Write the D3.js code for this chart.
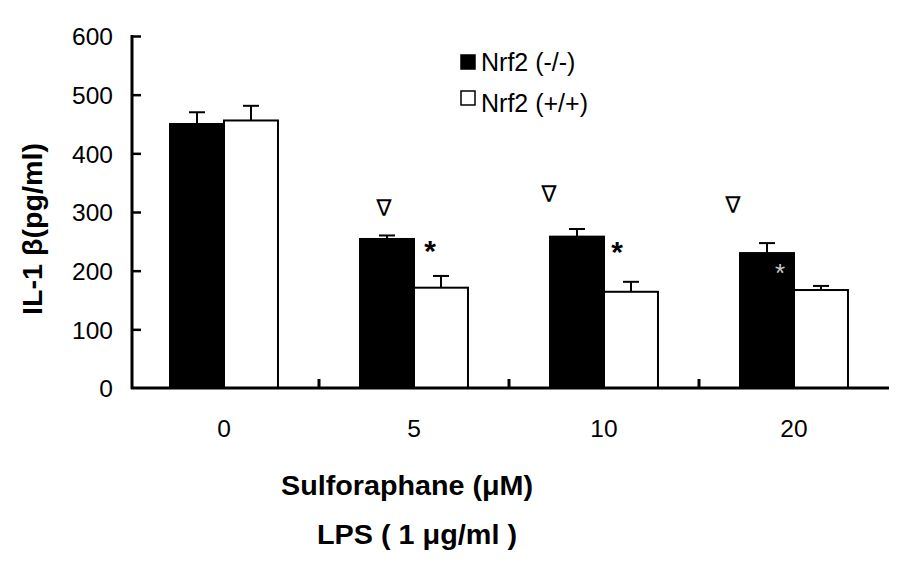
<!DOCTYPE html>
<html>
<head>
<meta charset="utf-8">
<script src="https://cdn.jsdelivr.net/npm/d3@7"></script>
<style>
  html, body { margin: 0; padding: 0; background: #fff; }
  svg { display: block; font-family: "Liberation Sans", Arial, sans-serif; }
</style>
</head>
<body>
<svg id="chart" width="909" height="570"></svg>
<script>
// ---- data ----
const categories = ["0", "5", "10", "20"];
const seriesNames = ["Nrf2 (-/-)", "Nrf2 (+/+)"];
const knockoutValues = [450, 254, 258, 230];
const knockoutErrors = [20, 6, 13, 17];
const wildtypeValues = [456, 171, 164, 167];
const wildtypeErrors = [25, 20, 17, 7];
const yTicks = [0, 100, 200, 300, 400, 500, 600];
// annotations: category, symbol, value level, offset within group (px)
const annotCats = ["5", "10", "20", "5", "10", "20"];
const annotSymbols = ["∇", "∇", "∇", "*", "*", "*"];
const annotValues = [307, 330, 312, 238, 237, 199];
const annotDx = [-30, -55, -61, 16, 13, -14];
const annotColors = ["#000", "#000", "#000", "#000", "#000", "#c8c8c8"];

const svg = d3.select("#chart");

const x0 = d3.scaleBand().domain(categories).range([129, 889]).padding(0);
const x1 = d3.scaleBand().domain(seriesNames).range([0, x0.bandwidth()]).paddingInner(0).paddingOuter(0.76);
const y = d3.scaleLinear().domain([0, 600]).range([388, 36]);

const rows = categories.map((c, i) => ({
  cat: c,
  bars: [
    { s: seriesNames[0], v: knockoutValues[i], e: knockoutErrors[i], fill: "#000" },
    { s: seriesNames[1], v: wildtypeValues[i], e: wildtypeErrors[i], fill: "#fff" }
  ]
}));

// error bars (drawn first, bar covers lower part)
const g = svg.append("g");
rows.forEach(r => {
  r.bars.forEach(b => {
    const cx = x0(r.cat) + x1(b.s) + x1.bandwidth() / 2;
    g.append("line").attr("x1", cx).attr("x2", cx)
      .attr("y1", y(b.v)).attr("y2", y(b.v + b.e))
      .attr("stroke", "#000").attr("stroke-width", 2);
    g.append("line").attr("x1", cx - 8).attr("x2", cx + 8)
      .attr("y1", y(b.v + b.e)).attr("y2", y(b.v + b.e))
      .attr("stroke", "#000").attr("stroke-width", 2);
  });
});

// bars
rows.forEach(r => {
  r.bars.forEach(b => {
    g.append("rect")
      .attr("x", x0(r.cat) + x1(b.s))
      .attr("y", y(b.v))
      .attr("width", x1.bandwidth())
      .attr("height", y(0) - y(b.v))
      .attr("fill", b.fill)
      .attr("stroke", "#000").attr("stroke-width", 2);
  });
});

// annotations
annotCats.forEach((c, i) => {
  const gx = x0(c) + x0.bandwidth() / 2 + annotDx[i];
  const isStar = annotSymbols[i] === "*";
  const faint = annotColors[i] !== "#000";
  svg.append("text")
    .attr("x", gx)
    .attr("y", y(annotValues[i]) + (isStar ? (faint ? 11 : 13) : 8))
    .attr("text-anchor", "middle")
    .attr("font-family", isStar ? "Liberation Sans" : "DejaVu Sans")
    .attr("font-weight", isStar && !faint ? "bold" : "normal")
    .attr("font-size", isStar ? (faint ? 26 : 30) : 23)
    .attr("fill", annotColors[i])
    .text(annotSymbols[i]);
});

// y axis
const yAxis = d3.axisLeft(y).tickValues(yTicks).tickSizeInner(-9).tickSizeOuter(0).tickPadding(19);
const ya = svg.append("g").attr("transform", "translate(132,0)").call(yAxis);
ya.select(".domain").attr("stroke-width", 3).attr("d", `M0,${y(600) - 1}V${y(0) + 1}`);
ya.selectAll(".tick line").attr("stroke-width", 2.5).attr("x1", 0);
ya.selectAll(".tick text").attr("font-size", 24.5).attr("font-family", "Liberation Sans").attr("fill", "#000")
  .attr("dy", "0.36em");
ya.selectAll(".tick").filter(d => d === 0).select("line").remove();

// x axis
const xa = svg.append("g").attr("transform", `translate(0,${y(0)})`);
xa.append("line").attr("x1", 131).attr("x2", 889).attr("y1", 0).attr("y2", 0)
  .attr("stroke", "#000").attr("stroke-width", 3);
categories.slice(1).forEach(c => {
  xa.append("line").attr("x1", x0(c)).attr("x2", x0(c)).attr("y1", 0).attr("y2", -9)
    .attr("stroke", "#000").attr("stroke-width", 3);
});
categories.forEach(c => {
  xa.append("text").attr("x", x0(c) + x0.bandwidth() / 2).attr("y", 49)
    .attr("text-anchor", "middle").attr("font-size", 24.5).attr("fill", "#000").text(c);
});

// axis titles
svg.append("text")
  .attr("transform", "translate(42,229) rotate(-90)")
  .attr("text-anchor", "middle").attr("font-weight", "bold").attr("font-size", 27)
  .attr("textLength", 172).attr("lengthAdjust", "spacingAndGlyphs")
  .text("IL-1 β(pg/ml)");
svg.append("text").attr("x", 407).attr("y", 495)
  .attr("text-anchor", "middle").attr("font-weight", "bold").attr("font-size", 27)
  .attr("textLength", 252).attr("lengthAdjust", "spacingAndGlyphs")
  .text("Sulforaphane (μM)");
svg.append("text").attr("x", 417).attr("y", 544)
  .attr("text-anchor", "middle").attr("font-weight", "bold").attr("font-size", 27)
  .attr("textLength", 200).attr("lengthAdjust", "spacingAndGlyphs")
  .text("LPS ( 1 μg/ml )");

// legend
const legend = svg.append("g");
seriesNames.forEach((s, i) => {
  legend.append("rect").attr("x", 461).attr("y", 55 + i * 36)
    .attr("width", 14).attr("height", 14)
    .attr("fill", i === 0 ? "#000" : "#fff").attr("stroke", "#000").attr("stroke-width", 1.5);
  legend.append("text").attr("x", 481).attr("y", 71 + i * 41)
    .attr("font-size", 25).attr("fill", "#000").text(s);
});
</script>
</body>
</html>
